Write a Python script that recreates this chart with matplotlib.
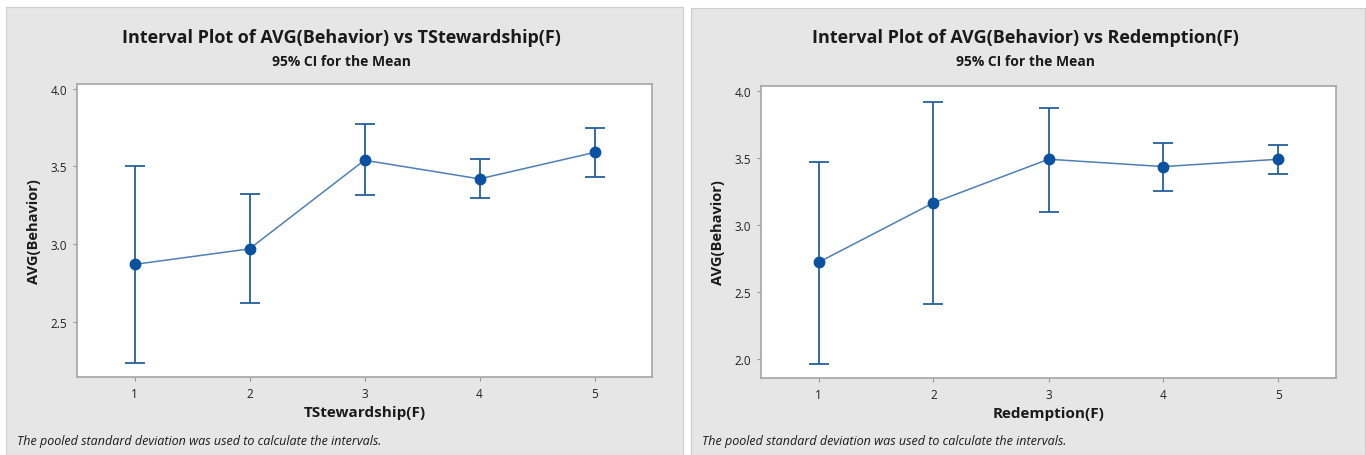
import matplotlib
matplotlib.use("Agg")
import matplotlib.pyplot as plt

# ---- data (means and 95% CI bounds)
levels = [1, 2, 3, 4, 5]

stew_mean = [2.87, 2.97, 3.54, 3.42, 3.59]
stew_low = [2.235, 2.62, 3.315, 3.295, 3.43]
stew_high = [3.505, 3.325, 3.77, 3.55, 3.745]

red_mean = [2.72, 3.165, 3.49, 3.435, 3.49]
red_low = [1.963, 2.41, 3.095, 3.255, 3.377]
red_high = [3.473, 3.92, 3.873, 3.613, 3.595]

panels = [
    {"factor": "TStewardship(F)", "mean": stew_mean, "low": stew_low, "high": stew_high,
     "yticks": [2.5, 3.0, 3.5, 4.0], "ylim": (2.146, 4.03)},
    {"factor": "Redemption(F)", "mean": red_mean, "low": red_low, "high": red_high,
     "yticks": [2.0, 2.5, 3.0, 3.5, 4.0], "ylim": (1.856, 4.037)},
]

W, H = 1366, 456
BG = "#e6e6e6"
EDGE = "#cdcdcd"
BLUE = "#0a52a0"
BAR = "#25609c"
CONN = "#4f7fb3"
FONT = ["Open Sans", "DejaVu Sans"]

plt.rcParams["font.family"] = FONT
fig = plt.figure(figsize=(W / 100, H / 100), dpi=100)
fig.patch.set_facecolor("white")


def px_rect(x0, y0, x1, y1):
    """pixel box (top-left origin) -> figure fraction [l, b, w, h]"""
    return [x0 / W, 1 - y1 / H, (x1 - x0) / W, (y1 - y0) / H]


def fx(x):
    return x / W


def fy(y):
    return 1 - y / H


panel_boxes = [(6, 8, 683, 456), (691, 9, 1365, 456)]
axes_boxes = [(77, 85, 652, 378), (761, 87, 1336, 379)]

for p, pb, ab in zip(panels, panel_boxes, axes_boxes):
    # grey panel behind each graph
    bg = fig.add_axes(px_rect(*pb), zorder=0)
    bg.set_facecolor(BG)
    bg.set_xticks([])
    bg.set_yticks([])
    for s in bg.spines.values():
        s.set_color(EDGE)

    ax = fig.add_axes(px_rect(*ab), zorder=1)
    ax.set_facecolor("white")

    yerr = [[m - lo for m, lo in zip(p["mean"], p["low"])],
            [hi - m for m, hi in zip(p["mean"], p["high"])]]
    ax.errorbar(levels, p["mean"], yerr=yerr, fmt="none", ecolor=BAR,
                elinewidth=1.3, capsize=7, capthick=1.3, zorder=2)
    ax.plot(levels, p["mean"], "-", color=CONN, lw=1.1, zorder=3)
    ax.plot(levels, p["mean"], "o", color=BLUE, ms=7.5, zorder=4)

    ax.set_xlim(0.5, 5.5)
    ax.set_ylim(*p["ylim"])
    ax.set_xticks(levels)
    ax.set_yticks(p["yticks"])
    ax.set_yticklabels([f"{t:.1f}" for t in p["yticks"]])
    ax.tick_params(length=3, width=0.8, color="#9a9a9a", labelsize=8.5,
                   labelcolor="#222222", pad=4)
    for s in ax.spines.values():
        s.set_color("#a5a5a5")
        s.set_linewidth(1.2)

    ax.set_xlabel(p["factor"], fontsize=11, fontweight="bold",
                  color="#1a1a1a", labelpad=4)
    ax.set_ylabel("AVG(Behavior)", fontsize=10.5, fontweight="bold",
                  color="#1a1a1a", labelpad=7)

    cx = (pb[0] + pb[2]) / 2
    fig.text(fx(cx - 3), fy(38), f"Interval Plot of AVG(Behavior) vs {p['factor']}",
             ha="center", va="center", fontsize=13, fontweight="bold",
             color="#1a1a1a", zorder=3)
    fig.text(fx(cx - 3), fy(62), "95% CI for the Mean", ha="center", va="center",
             fontsize=10, fontweight="bold", color="#1a1a1a", zorder=3)
    fig.text(fx(pb[0] + 11), fy(442),
             "The pooled standard deviation was used to calculate the intervals.",
             ha="left", va="center", fontsize=9, style="italic", color="#1a1a1a",
             zorder=3)

fig.savefig("out.png", dpi=100, facecolor="white")
